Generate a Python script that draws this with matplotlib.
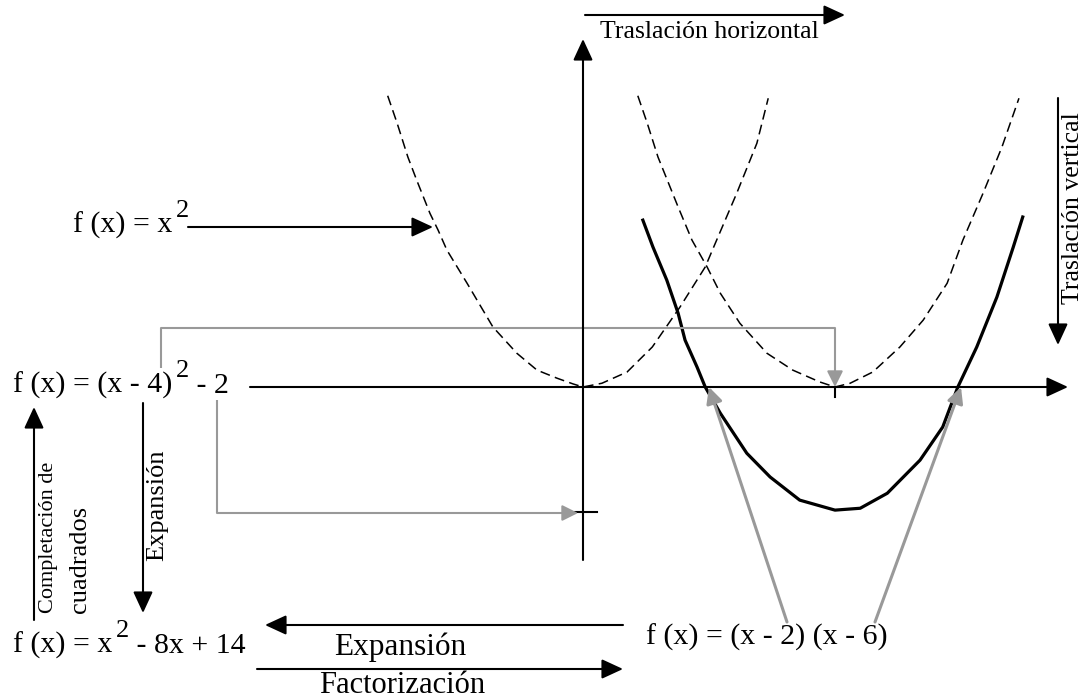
import matplotlib
matplotlib.use("Agg")
import matplotlib.pyplot as plt

plt.rcParams['font.family'] = ['Liberation Serif', 'DejaVu Serif']

# curvas (unidades del grafico)
# f(x) = x^2  (punteada)
x_base = [-3.10, -2.95, -2.78, -2.64, -2.43, -2.30, -2.16, -1.84, -1.43, -1.05, -0.73, -0.41, -0.16, 0.0,
          0.30, 0.70, 1.10, 1.54, 1.94, 2.10, 2.44, 2.76, 2.94]
y_base = [4.66, 4.22, 3.68, 3.31, 2.78, 2.51, 2.19, 1.66, 0.96, 0.54, 0.27, 0.14, 0.05, 0.0,
          0.06, 0.24, 0.64, 1.28, 1.92, 2.30, 3.10, 3.90, 4.62]
# f(x) = (x - 4)^2  (punteada, traslacion horizontal)
x_tras = [0.87, 1.02, 1.19, 1.51, 1.73, 1.97, 2.18, 2.49, 2.92, 3.33, 3.76, 4.0,
          4.24, 4.60, 5.03, 5.40, 5.78, 6.03, 6.35, 6.65, 6.92]
y_tras = [4.66, 4.22, 3.68, 2.88, 2.35, 1.92, 1.50, 1.02, 0.54, 0.27, 0.08, 0.0,
          0.06, 0.24, 0.64, 1.07, 1.66, 2.35, 3.10, 3.84, 4.62]
# f(x) = (x - 4)^2 - 2  (continua)
x_sol = [0.95, 1.11, 1.33, 1.51, 1.62, 1.81, 1.94, 2.18, 2.60, 2.97, 3.44, 4.0,
         4.40, 4.83, 5.35, 5.71, 5.95, 6.25, 6.57, 6.83, 6.98]
y_sol = [2.67, 2.24, 1.71, 1.18, 0.75, 0.32, 0.0, -0.42, -1.06, -1.44, -1.81, -1.97,
         -1.94, -1.70, -1.17, -0.64, 0.0, 0.64, 1.44, 2.24, 2.72]

vertice = (4, -2)
raices = [2, 6]

# etiquetas: (texto, es_superindice)
t_base = [('f (x) = x', False), ('2', True)]
t_canon = [('f (x) = (x - 4)', False), ('2', True), (' - 2', False)]
t_gen = [('f (x) = x', False), ('2', True), (' - 8x + 14', False)]
t_fact = [('f (x) = (x - 2) (x - 6)', False)]


def P(px, py):
    # posicion en pixeles de la figura -> unidades del grafico
    return ((px - 583) / 63.0, (387 - py) / 62.5)


fig = plt.figure(figsize=(10.85, 7), dpi=100)
ax = fig.add_axes([0, 0, 1, 1])
ax.set_xlim(-583 / 63.0, 502 / 63.0)
ax.set_ylim(-313 / 62.5, 387 / 62.5)
ax.axis('off')
renderer = fig.canvas.get_renderer()

ax.plot(x_base, y_base, color='k', lw=1.1, dashes=(6.5, 3.5))
ax.plot(x_tras, y_tras, color='k', lw=1.1, dashes=(6.5, 3.5))
ax.plot(x_sol, y_sol, color='k', lw=2.3)

negro = dict(arrowstyle='-|>,head_length=0.65,head_width=0.3', color='k', lw=1.5,
             mutation_scale=20, shrinkA=0, shrinkB=0)
gris = dict(arrowstyle='-|>,head_length=0.6,head_width=0.3', color='#999999', lw=1.5,
            mutation_scale=16, shrinkA=0, shrinkB=0)
gris2 = dict(gris, lw=2.2)


def flecha(a, b, props):
    ax.annotate('', xy=P(*b), xytext=P(*a), arrowprops=props)


def linea(pts, color='k', lw=1.5):
    xs = [P(*p)[0] for p in pts]
    ys = [P(*p)[1] for p in pts]
    ax.plot(xs, ys, color=color, lw=lw, solid_capstyle='butt')


def formula(px, py, partes, size=21.5):
    x = px
    for s, sup in partes:
        if sup:
            t = ax.text(*P(x + 3, py - 16), s, fontsize=19, ha='left', va='baseline')
        else:
            t = ax.text(*P(x, py), s, fontsize=size, ha='left', va='baseline')
        x = t.get_window_extent(renderer).x1


# ejes
flecha((250, 387), (1068, 387), negro)
flecha((583, 560), (583, 39), negro)
ax.plot([vertice[0], vertice[0]], [0, -0.16], color='k', lw=1.5)
ax.plot([-0.12, 0.22], [vertice[1], vertice[1]], color='k', lw=1.5)

# traslaciones
flecha((585, 15), (845, 15), negro)
ax.text(*P(600, 38), 'Traslación horizontal', fontsize=18.5, ha='left', va='baseline')
flecha((1058, 98), (1058, 345), negro)
ax.text(*P(1073, 208), 'Traslación vertical', fontsize=18.5, rotation=90, ha='center', va='center')

# f(x) = x^2
formula(73, 233, t_base)
flecha((188, 227), (433, 227), negro)

# forma canonica
formula(13, 393, t_canon)
linea([(161, 368), (161, 328), (835, 328)], color='#999999')
ax.annotate('', xy=(vertice[0], 0), xytext=P(835, 328), arrowprops=gris)
linea([(217, 400), (217, 513)], color='#999999')
ax.annotate('', xy=P(578, 513), xytext=P(217, 513), arrowprops=gris)

# forma general
formula(13, 653, t_gen)
flecha((34, 620), (34, 407), negro)
ax.text(*P(48, 613), 'Completación de', fontsize=16, rotation=90, ha='center', va='bottom')
ax.text(*P(80, 613), 'cuadrados', fontsize=19, rotation=90, ha='center', va='bottom')
flecha((143, 403), (143, 613), negro)
ax.text(*P(157, 505), 'Expansión', fontsize=19, rotation=90, ha='center', va='center')

# forma factorizada
formula(646, 645, t_fact)
ax.annotate('', xy=(raices[0], 0), xytext=P(787, 622), arrowprops=gris2)
ax.annotate('', xy=(raices[1], 0), xytext=P(875, 622), arrowprops=gris2)

flecha((623, 625), (265, 625), negro)
ax.text(*P(400, 655), 'Expansión', fontsize=22.5, ha='center', va='baseline')
flecha((257, 669), (623, 669), negro)
ax.text(*P(402, 693), 'Factorización', fontsize=22, ha='center', va='baseline')

fig.savefig('out.png', dpi=100)
